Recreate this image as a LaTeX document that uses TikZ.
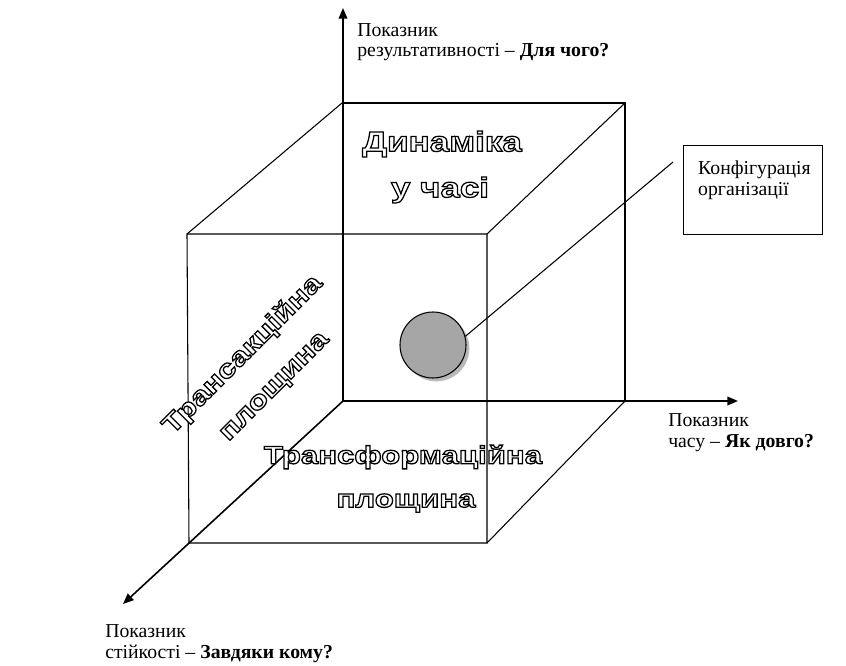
\documentclass[tikz,border=0pt]{standalone}
\usepackage{fontspec}
\setmainfont{Liberation Serif}
\newfontfamily\artfont{Liberation Sans}[FakeStretch=1.25]
\usetikzlibrary{arrows.meta,shadows}
\definecolor{ballgray}{HTML}{A6A6A6}
% white letters with a black rim
\newcommand\hollowtext[1]{\special{pdf:literal direct 2 Tr 0.95 w 0 G 1 g}#1\special{pdf:literal direct 0 Tr 0 g 0 G}}
\tikzset{
  cubeline/.style={line width=0.8pt},
  axisline/.style={line width=1.2pt,-{Triangle[length=8pt,width=6.5pt]}},
  axislabel/.style={anchor=base west,align=left,inner sep=0pt,font=\fontsize{14.8}{15.5}\selectfont},
  arttext/.style={inner sep=0pt,font=\artfont\bfseries\fontsize{#1}{#1}\selectfont},
  arttext/.default=18.7,
}
\begin{document}
\begin{tikzpicture}[x=0.75pt,y=-0.75pt]
            \useasboundingbox (0,0) rectangle (846,666);
            \begin{scope}
                % cube corners, back face then front face
                \coordinate (O) at (343,401);
                \coordinate (B1) at (342,103);
                \coordinate (B2) at (625,103);
                \coordinate (B3) at (625,401);
                \coordinate (F1) at (187,234);
                \coordinate (F2) at (487,234);
                \coordinate (F3) at (487,543);
                \coordinate (F4) at (189,543);
                % axis ends
                \coordinate (Y) at (343,8);
                \coordinate (X) at (738,401);
                \coordinate (Z) at (123,604);

                \draw[cubeline] (B1) -- (B2) -- (B3);
                \draw[cubeline] (F1) -- (F2) -- (F3) -- (F4) -- cycle;
                \draw[cubeline] (F1) -- (B1);
                \draw[cubeline] (F2) -- (B2);
                \draw[cubeline] (F3) -- (B3);
                \draw[axisline] (O) -- (Y);
                \draw[axisline] (O) -- (X);
                \draw[axisline] (O) -- (Z);

                \node[axislabel, name=ylab] at (357,57) (ylab) {Показник\\результативності – \textbf{Для чого?}};
                \node[axislabel, name=xlab] at (668,447) (xlab) {Показник\\часу – \textbf{Як довго?}};
                \node[axislabel, name=zlab] at (105,658) (zlab) {Показник\\стійкості – \textbf{Завдяки кому?}};

                \node[arttext=21, name=dyn1] at (442,144) (dyn1) {\hollowtext{Динаміка}};
                \node[arttext=21, name=dyn2] at (440,190) (dyn2) {\hollowtext{у часі}};
                \node[arttext=19.3, name=tra1, rotate=45] at (243,355) (tra1) {\hollowtext{Трансакційна}};
                \node[arttext=19.3, name=tra2, rotate=45] at (276,388) (tra2) {\hollowtext{площина}};
                \node[arttext, name=trf1] at (403,457) (trf1) {\hollowtext{Трансформаційна}};
                \node[arttext, name=trf2] at (406,503) (trf2) {\hollowtext{площина}};

                \node[name=sphere, circle, draw, line width=0.8pt, fill=ballgray, minimum size=49.5pt, inner sep=0pt,
                      drop shadow={shadow xshift=2.5pt, shadow yshift=-2.5pt, fill=black!55}] at (433,345) (sphere) {};
                \node[name=conf, draw, line width=0.8pt, anchor=north west, inner xsep=11pt, inner ysep=11.5pt,
                      font=\fontsize{14.8}{15.5}\selectfont] at (683,145) (conf)
                      {\parbox[c][43.75pt][t]{82pt}{Конфігурація\\організації}};
                \coordinate (conftip) at (673,162);
                \draw[cubeline] (sphere.15) -- (conftip);
            \end{scope}
        \end{tikzpicture}
\end{document}
